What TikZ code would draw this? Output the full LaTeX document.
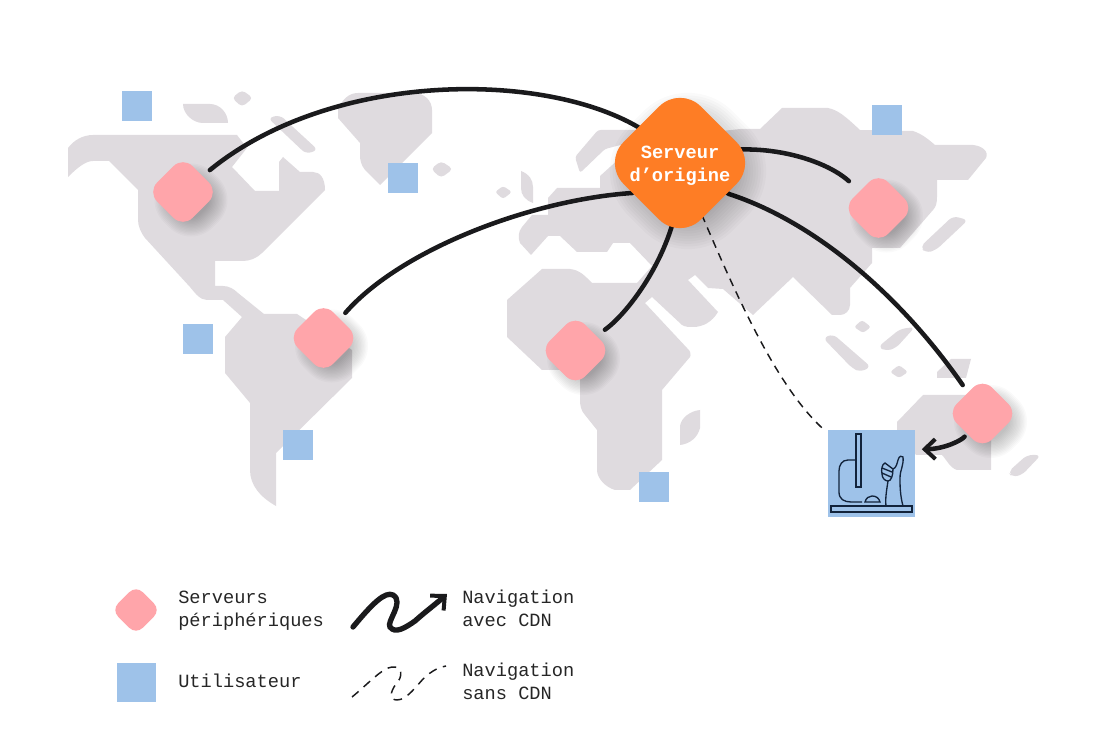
\documentclass[tikz,border=0pt]{standalone}
\usepackage{fontspec}
\setmainfont{Liberation Mono}
\usetikzlibrary{arrows.meta}
\definecolor{terrain}{HTML}{DFDBDF}
\definecolor{rose}{HTML}{FFA5AA}
\definecolor{bleu}{HTML}{9EC2E9}
\definecolor{orangeSrv}{HTML}{FE7D25}
\definecolor{encre}{HTML}{1A1A1C}
\definecolor{marine}{HTML}{12233B}
\pgfdeclarelayer{fond}
\pgfdeclarelayer{liens}
\pgfsetlayers{fond,liens,main}
\tikzset{
  terre/.style={fill=terrain, draw=none},
  serveur/.style={rectangle, rotate=45, minimum size=37.5pt, inner sep=0pt, rounded corners=10pt, fill=rose},
  origine/.style={rectangle, rotate=45, minimum size=82pt, inner sep=0pt, rounded corners=22pt, fill=orangeSrv},
  utilisateur/.style={rectangle, minimum size=22.5pt, inner sep=0pt, fill=bleu},
  lien/.style={draw=encre, line width=3.4pt, line cap=round},
  lienfin/.style={draw=encre, line width=1.1pt, dash pattern=on 6pt off 4.5pt},
  pointe/.style={-{Straight Barb[length=8pt, width=15pt, line width=3pt]}},
  icone/.style={draw=marine, line width=1pt},
  legende/.style={anchor=west, align=left, inner sep=0pt, font=\fontsize{14}{17}\selectfont, text=black!85},
}
% ombre douce : x, y, demi-cote, rayon, etendue
\newcommand{\ombrage}[5]{%
  \begin{scope}[shift={(#1+8,#2+8)}, rotate=45]
    \foreach \i in {0,...,13}{
      \pgfmathsetmacro{\demi}{#3-0.45*#5+\i*#5/13}
      \pgfmathsetmacro{\rayon}{(#4+\i*#5/13)*0.75}
      \fill [black, opacity=0.019, rounded corners=\rayon pt] (-\demi,-\demi) rectangle (\demi,\demi);
    }
  \end{scope}
}
\begin{document}
\begin{tikzpicture}[x=0.75pt, y=-0.75pt]
\useasboundingbox (0,0) rectangle (1107,755);

% Carte
\begin{pgfonlayer}{fond}
\fill [terre] (68,177) -- (68,148) .. controls (74,140) and (83,135) .. (93,135) -- (237,135) -- (247,148) -- (232,167) -- (255,191) -- (279,191) -- (279,162) -- (283,157) -- (300,172) -- (313,172) .. controls (320,172) and (325,178) .. (325,190) -- (262,253) .. controls (257,258) and (250,261) .. (243,261) -- (215,261) -- (215,286) -- (223,286) .. controls (229,286) and (234,289) .. (238,293) -- (264,314) -- (297,314) -- (352,350) -- (352,378) -- (276,453) -- (276,506) .. controls (260,497) and (250,485) .. (250,470) -- (250,403) -- (225,373) -- (225,337) -- (242,317) -- (223,300) -- (207,300) .. controls (200,300) and (195,293) .. (190,287) -- (145,238) .. controls (141,233) and (138,226) .. (138,220) -- (138,190) -- (109,161) -- (93,161) .. controls (86,161) and (78,167) .. (68,177) -- cycle;
\fill [terre] (183,104) -- (210,104) .. controls (220,104) and (228,113) .. (228,123) -- (203,123) .. controls (193,123) and (183,114) .. (183,104) -- cycle;
\fill [terre, rounded corners=3pt] (242,90) -- (253,98) -- (242,107) -- (232,98) -- cycle;
\fill [terre, rounded corners=4pt] (268,118) -- (280,115) -- (318,150) -- (306,154) -- cycle;
\fill [terre] (338,108) .. controls (343,100) and (348,93) .. (358,93) -- (413,93) .. controls (425,93) and (432,101) .. (432,110) -- (432,133) -- (380,185) -- (365,170) .. controls (361,165) and (360,160) .. (360,155) -- (360,143) -- (338,118) -- cycle;
\fill [terre, rounded corners=3pt] (441,161) -- (453,169) -- (441,178) -- (431,169) -- cycle;
% Eurasie et Afrique
\fill [terre] (507,300) -- (542,269) -- (570,269) .. controls (580,270) and (585,276) .. (592,283) -- (637,283) -- (652,266) -- (630,243) -- (613,243) -- (607,252) -- (577,252) -- (560,236) -- (548,236) -- (531,255) -- (520,243) .. controls (518,238) and (518,232) .. (522,227) -- (532,215) -- (548,215) -- (548,198) -- (557,188) -- (600,188) -- (600,176) -- (640,140) -- (740,129) -- (760,129) -- (782,108) -- (828,108) .. controls (838,110) and (845,116) .. (860,130) -- (913,131) .. controls (922,134) and (928,139) .. (935,145) -- (973,145) .. controls (983,146) and (989,152) .. (986,158) -- (968,180) -- (937,180) -- (937,197) .. controls (937,203) and (936,207) .. (933,210) -- (900,248) -- (872,248) -- (872,263) -- (850,288) -- (850,305) .. controls (850,311) and (845,315) .. (840,315) -- (832,315) -- (793,277) -- (753,315) -- (723,289) -- (708,288) -- (695,275) -- (688,280) -- (718,312) .. controls (712,322) and (703,327) .. (693,327) .. controls (689,327) and (685,327) .. (682,325) -- (652,297) -- (645,303) -- (687,348) .. controls (691,351) and (691,355) .. (690,357) -- (662,390) -- (662,460) -- (630,490) -- (615,490) .. controls (605,487) and (597,478) .. (597,470) -- (597,430) -- (585,415) .. controls (581,411) and (580,405) .. (580,400) -- (580,370) -- (542,370) -- (507,337) -- cycle;
\fill [terre, rounded corners=2pt] (575,157) -- (598,130) -- (640,130) -- (640,140) -- (605,149) -- (580,173) -- cycle;
\fill [terre, rounded corners=2pt] (495,192) -- (503,186) -- (512,192) -- (503,199) -- cycle;
\fill [terre] (521,171) .. controls (529,174) and (533,180) .. (533,187) -- (533,203) .. controls (525,200) and (521,195) .. (521,188) -- cycle;
\fill [terre, rounded corners=4pt] (920,247) -- (953,216) -- (968,220) -- (936,250) -- (926,253) -- cycle;
\fill [terre] (700,410) -- (700,428) .. controls (698,437) and (690,444) .. (680,445) -- (680,426) .. controls (681,418) and (690,411) .. (700,410) -- cycle;
\fill [terre, rounded corners=2pt] (862,320) -- (871,327) -- (863,333) -- (854,327) -- cycle;
\fill [terre, rounded corners=4pt] (823,338) -- (833,334) -- (871,367) -- (860,372) -- (852,368) -- cycle;
\fill [terre, rounded corners=4pt] (878,347) -- (900,329) -- (915,327) -- (896,348) -- (886,351) -- cycle;
\fill [terre, rounded corners=2pt] (899,365) -- (908,372) -- (899,378) -- (890,372) -- cycle;
\fill [terre] (951,359) -- (971,359) -- (966,378) -- (937,378) -- (937,372) -- cycle;
\fill [terre] (923,395) -- (967,395) -- (991,420) -- (991,470) -- (957,470) .. controls (950,468) and (946,459) .. (942,455) -- (916,455) -- (897,430) -- (897,422) -- cycle;
\fill [terre, rounded corners=4pt] (1008,472) -- (1027,455) -- (1041,455) -- (1022,475) -- (1012,477) -- cycle;
\end{pgfonlayer}

% Utilisateurs
\node (userNord) [utilisateur] at (137,106) {};
\node (userGroenland) [utilisateur] at (403,178) {};
\node (userPacifique) [utilisateur] at (198,339) {};
\node (userSud) [utilisateur] at (298,445) {};
\node (userAfrique) [utilisateur] at (654,487) {};
\node (userAsie) [utilisateur] at (887,120) {};

% Serveurs
\ombrage{183}{192}{25}{13}{18}
\ombrage{323.5}{338}{25}{13}{18}
\ombrage{575.5}{350.5}{25}{13}{18}
\ombrage{878.5}{208}{25}{13}{18}
\ombrage{982.5}{413.5}{25}{13}{18}
\ombrage{680}{163}{55}{29}{34}
\node (user) [utilisateur, minimum size=65pt] at (871.5,473.5) {};
\node (srvNord) [serveur] at (183,192) {};
\node (srvSud) [serveur] at (323.5,338) {};
\node (srvAfrique) [serveur] at (575.5,350.5) {};
\node (srvAsie) [serveur] at (878.5,208) {};
\node (srvOceanie) [serveur] at (982.5,413.5) {};
\node (srvOrigine) [origine] at (680,163) {};
\node (txtOrigine) [text=white, align=center, font=\fontsize{14}{17}\selectfont\bfseries] at (680,165.5) {Serveur\\d’origine};

% Liens
\begin{pgfonlayer}{liens}
\draw [lien, shorten >=26pt] (srvOrigine.center) -- (638,127) .. controls (540,70) and (330,72) .. (srvNord.center);
\draw [lien, shorten >=25pt] (srvOrigine.center) -- (632,193) .. controls (530,200) and (400,250) .. (srvSud.center);
\draw [lien, shorten >=27pt] (srvOrigine.center) .. controls (685,240) and (630,312) .. (srvAfrique.center);
\draw [lien, shorten >=30pt] (srvOrigine.center) .. controls (740,135) and (820,155) .. (srvAsie.center);
\draw [lien, shorten >=26pt] (srvOrigine.center) -- (729,194) .. controls (815,222) and (900,295) .. (srvOceanie.center);
\draw [lienfin, shorten >=50pt] (srvOrigine.center) .. controls (725,270) and (770,380) .. (user.center);
\draw [lien, pointe, shorten <=22pt, shorten >=5pt] (srvOceanie.center) .. controls (962,440) and (945,449) .. (user.29);
\end{pgfonlayer}

% Icone
\draw [icone] (831,506) rectangle (912,512);
\draw [icone] (856,434) rectangle (861,487);
\draw [icone] (856,460) -- (848,460) .. controls (842,460) and (839,465) .. (839,471) -- (839,492) .. controls (839,499) and (844,502) .. (851,502) -- (862,502);
\draw [icone] (865,502) .. controls (866,498) and (869,496) .. (872,496) .. controls (876,496) and (879,498) .. (880,502) -- cycle;
\draw [icone] (886,506) .. controls (885,498) and (887,488) .. (888,481);
\draw [icone] (903,506) .. controls (900,495) and (900,485) .. (900,478) .. controls (900,470) and (904,465) .. (903,457) .. controls (902,455) and (899,456) .. (898,460) .. controls (897,464) and (896,468) .. (893,469) -- (885,463) .. controls (882,464) and (881,470) .. (882,474) .. controls (882,478) and (885,481) .. (888,481) .. controls (891,481) and (893,476) .. (893,469);
\draw [icone] (882,468) -- (892,472) (882,473) -- (891,477);

% Legende
\node (legServeur) [serveur, minimum size=26pt, rounded corners=7pt] at (136,610) {};
\node (legUser) [utilisateur, minimum size=29pt] at (136.5,682.5) {};
\node (txtServeur) [legende] at (178,610.5) {Serveurs\\périphériques};
\node (txtUser) [legende] at (178,681) {Utilisateur};
\node (txtAvec) [legende] at (462,608) {Navigation\\avec CDN};
\node (txtSans) [legende] at (462,681) {Navigation\\sans CDN};
\coordinate (avecA) at (353,627);
\coordinate (avecB) at (447,594);
\coordinate (sansA) at (352,697);
\coordinate (sansB) at (446,666);
\draw [lien, pointe, line width=4pt] (avecA) .. controls (372,604) and (385,591) .. (393,595) .. controls (405,602) and (386,622) .. (390,627) .. controls (395,634) and (405,628) .. (415,621) .. controls (425,612) and (437,603) .. (avecB);
\draw [lienfin, dash pattern=on 6.5pt off 5pt] (sansA) .. controls (368,684) and (382,668) .. (392,667) .. controls (403,666) and (403,677) .. (396,684) .. controls (390,692) and (389,700) .. (397,700) .. controls (407,700) and (417,685) .. (425,677) .. controls (432,671) and (439,667) .. (sansB);
\end{tikzpicture}
\end{document}
